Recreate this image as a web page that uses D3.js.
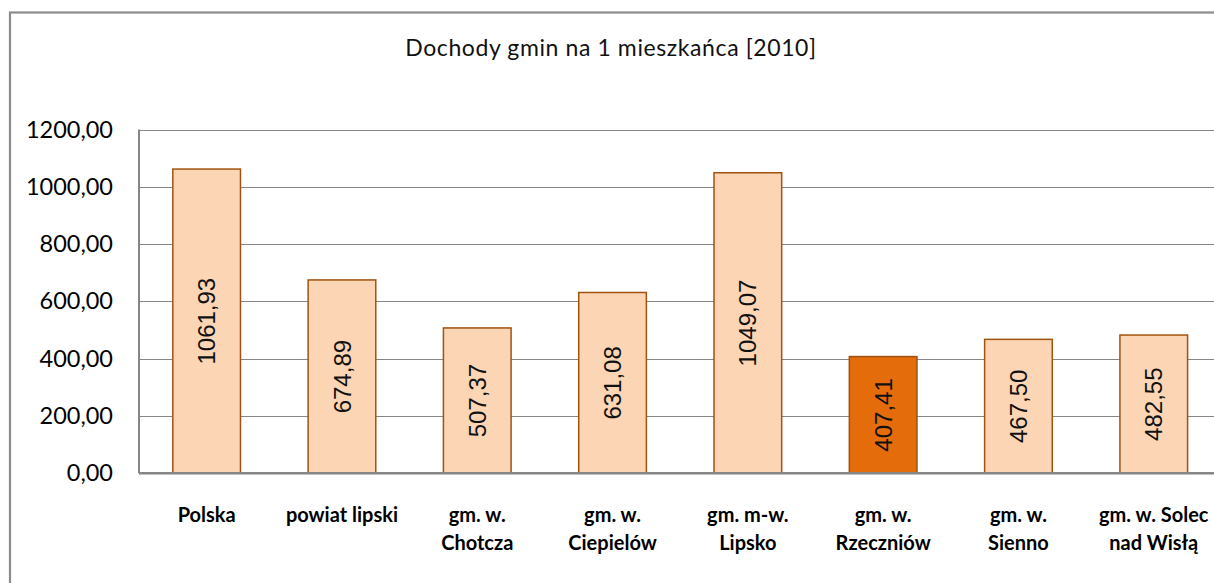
<!DOCTYPE html>
<html><head><meta charset="utf-8">
<script src="https://cdn.jsdelivr.net/npm/d3@7"></script>
<style>body{margin:0;background:#fff}svg{display:block}</style>
</head><body>
<svg id="c" width="1214" height="583"></svg>
<script>
const title = "Dochody gmin na 1 mieszkańca [2010]";
const categories = [["Polska"],["powiat lipski"],["gm. w.","Chotcza"],["gm. w.","Ciepielów"],["gm. m-w.","Lipsko"],["gm. w.","Rzeczniów"],["gm. w.","Sienno"],["gm. w. Solec","nad Wisłą"]];
const values = [1061.93, 674.89, 507.37, 631.08, 1049.07, 407.41, 467.50, 482.55];
const highlight = [false,false,false,false,false,true,false,false];
const yTicks = [0,200,400,600,800,1000,1200];

(function(){
const svg = d3.select("#c");
const fmt = v => v.toFixed(2).replace(".", ",");
const pL = 139, pR = 139 + 8*135.3, pT = 129.5, pB = 473.3;

svg.append("rect").attr("x",10).attr("y",12.5).attr("width",1300).attr("height",700)
  .attr("fill","#fff").attr("stroke","#8c8c8c").attr("stroke-width",2.2);

svg.append("text").attr("x",611).attr("y",56).attr("text-anchor","middle")
  .attr("font-family","Lato, sans-serif").attr("font-size",23).attr("letter-spacing",0.6).attr("fill","#111").text(title);

const x = d3.scaleBand().domain(d3.range(categories.length)).range([pL,pR]).paddingInner(0.5).paddingOuter(0.25);
const y = d3.scaleLinear().domain([0,1200]).range([pB,pT]);

svg.append("g").selectAll("line").data(yTicks.slice(1)).join("line")
  .attr("x1",pL).attr("x2",1214).attr("y1",d=>Math.round(y(d))+0.5).attr("y2",d=>Math.round(y(d))+0.5)
  .attr("stroke","#868686").attr("stroke-width",1.2);

const ya = svg.append("g").attr("transform",`translate(${pL},0)`)
  .call(d3.axisLeft(y).tickValues(yTicks).tickFormat(fmt).tickSize(0).tickPadding(26));
ya.select(".domain").remove();
ya.selectAll("text").attr("font-family","Lato, sans-serif").attr("font-size",23.5).attr("fill","#000");

svg.append("g").selectAll("rect").data(values).join("rect")
  .attr("x",(d,i)=>x(i)).attr("width",x.bandwidth())
  .attr("y",d=>y(d)).attr("height",d=>y(0)-y(d))
  .attr("fill",(d,i)=>highlight[i]?"#E46C0A":"#FCD5B5")
  .attr("stroke","#A0520F").attr("stroke-width",1.5);

const fs = 24;
svg.append("g").selectAll("text").data(values).join("text")
  .attr("transform",(d,i)=>`translate(${x(i)+x.bandwidth()/2+fs*0.36},${(y(d)+y(0))/2}) rotate(-90)`)
  .attr("text-anchor","middle")
  .attr("font-family","Liberation Sans, Arial, sans-serif").attr("font-size",fs).attr("fill","#111")
  .text(fmt);

svg.append("line").attr("x1",pL).attr("x2",pL).attr("y1",pT).attr("y2",pB)
  .attr("stroke","#868686").attr("stroke-width",2);
svg.append("line").attr("x1",pL).attr("x2",1214).attr("y1",pB).attr("y2",pB)
  .attr("stroke","#868686").attr("stroke-width",2.5);

const xl = svg.append("g").selectAll("text").data(categories).join("text")
  .attr("x",(d,i)=>x(i)+x.bandwidth()/2).attr("y",522).attr("text-anchor","middle")
  .attr("font-family","Lato, sans-serif").attr("font-size",20).attr("font-weight","bold").attr("fill","#000");
xl.selectAll("tspan").data(d=>d).join("tspan")
  .attr("x",function(){return this.parentNode.getAttribute("x");})
  .attr("dy",(d,i)=>i?28:0).text(d=>d);
})();
</script>
</body></html>
